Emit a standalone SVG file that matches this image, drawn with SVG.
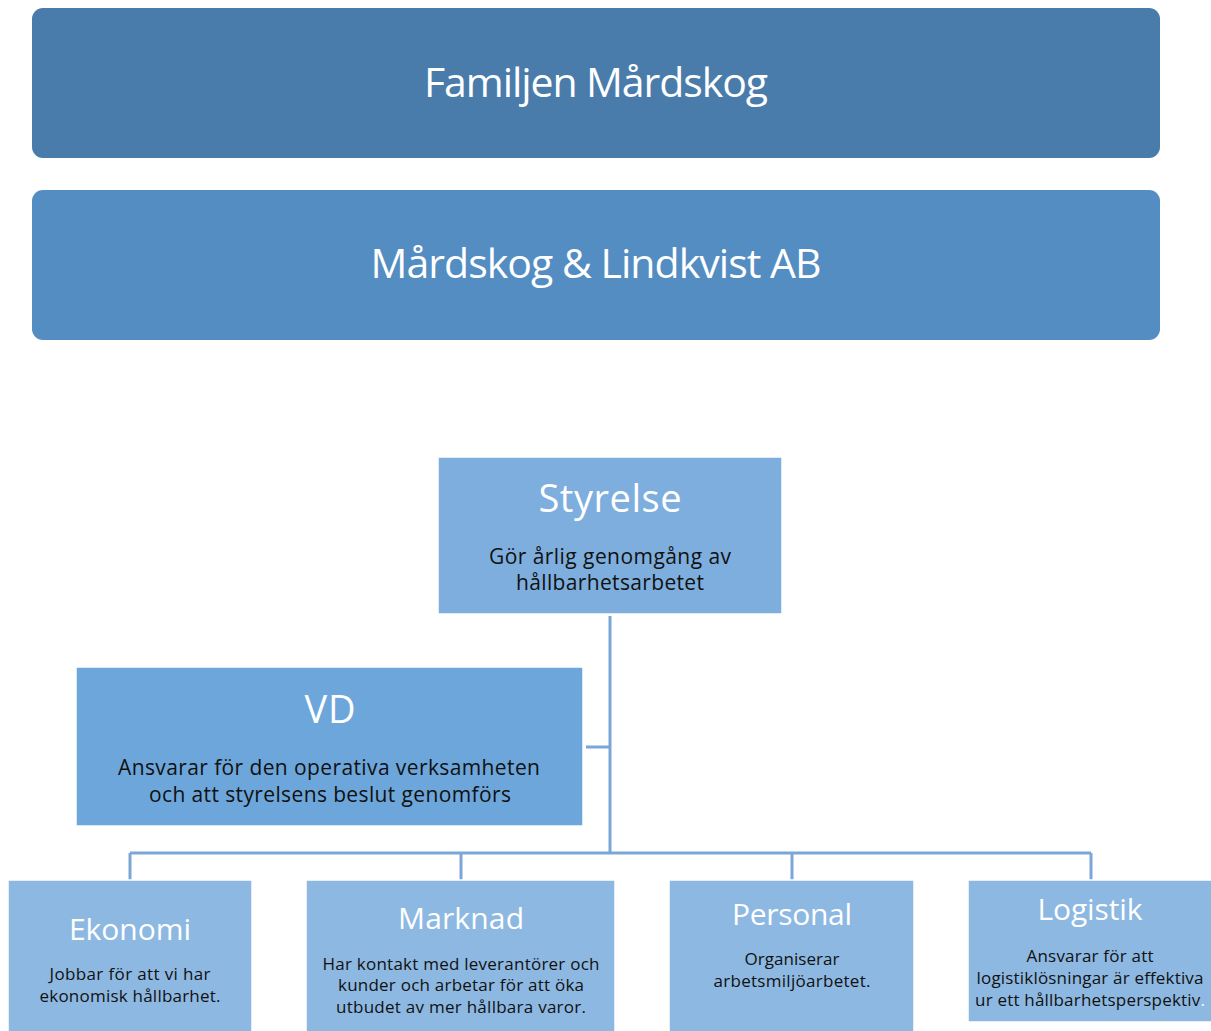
<svg xmlns="http://www.w3.org/2000/svg" width="1211" height="1031" viewBox="0 0 1211 1031">
<style>
text{font-family:"Open Sans","Noto Sans","Liberation Sans",sans-serif;text-anchor:middle}
.t{fill:#fff}
.d{fill:#111}
.big{font-size:41px}
.h{font-size:38px}
.hs{font-size:30px}
.m{font-size:21px}
.s{font-size:17px}
.box{stroke:#fff;stroke-width:1.5}
.c{stroke:#7BA7D8;stroke-width:3;fill:none}
</style>
<rect width="1211" height="1031" fill="#fff"/>
<g id="familjen">
<rect x="32" y="8" width="1128" height="150" rx="11" fill="#497CAB"/>
<text class="t big" x="596" y="97" textLength="344">Familjen Mårdskog</text>
</g>
<g id="ab">
<rect x="32" y="190" width="1128" height="150" rx="11" fill="#538DC2"/>
<text class="t big" x="596" y="278" textLength="451">Mårdskog &amp; Lindkvist AB</text>
</g>
<g id="connectors">
<path class="c" d="M610 616V853M586 747H610M130 853H1091M130 853V880M461 853V880M792 853V880M1091 853V880"/>
</g>
<g id="styrelse">
<rect class="box" x="438" y="457" width="344" height="157" fill="#7DAEDD"/>
<text class="t h" x="610" y="512" textLength="143">Styrelse</text>
<text class="d m" x="610" y="564" textLength="242">Gör årlig genomgång av</text>
<text class="d m" x="610" y="590" textLength="188">hållbarhetsarbetet</text>
</g>
<g id="vd">
<rect class="box" x="76" y="667" width="507" height="159" fill="#6CA6DA"/>
<text class="t h" x="330" y="723" textLength="51">VD</text>
<text class="d m" x="329" y="775" textLength="422">Ansvarar för den operativa verksamheten</text>
<text class="d m" x="330" y="802" textLength="362">och att styrelsens beslut genomförs</text>
</g>
<g id="ekonomi">
<rect class="box" x="8" y="880" width="244" height="155" fill="#8DB8E1"/>
<text class="t hs" x="130" y="940" textLength="122">Ekonomi</text>
<text class="d s" x="130" y="980" textLength="161">Jobbar för att vi har</text>
<text class="d s" x="130" y="1002" textLength="181">ekonomisk hållbarhet.</text>
</g>
<g id="marknad">
<rect class="box" x="306" y="880" width="309" height="155" fill="#8DB8E1"/>
<text class="t hs" x="461" y="929" textLength="126">Marknad</text>
<text class="d s" x="461" y="970" textLength="277">Har kontakt med leverantörer och</text>
<text class="d s" x="461" y="991" textLength="246">kunder och arbetar för att öka</text>
<text class="d s" x="461" y="1013" textLength="250">utbudet av mer hållbara varor.</text>
</g>
<g id="personal">
<rect class="box" x="669" y="880" width="245" height="155" fill="#8DB8E1"/>
<text class="t hs" x="792" y="925" textLength="120">Personal</text>
<text class="d s" x="792" y="965" textLength="95">Organiserar</text>
<text class="d s" x="792" y="987" textLength="157">arbetsmiljöarbetet.</text>
</g>
<g id="logistik">
<rect class="box" x="968" y="880" width="246" height="142" fill="#8DB8E1"/>
<text class="t hs" x="1090" y="920" textLength="105">Logistik</text>
<text class="d s" x="1090" y="962" textLength="127">Ansvarar för att</text>
<text class="d s" x="1090" y="984" textLength="227">logistiklösningar är effektiva</text>
<text class="d s" x="1090" y="1006" textLength="230">ur ett hållbarhetsperspektiv<tspan fill="#fff">.</tspan></text>
</g>
</svg>
